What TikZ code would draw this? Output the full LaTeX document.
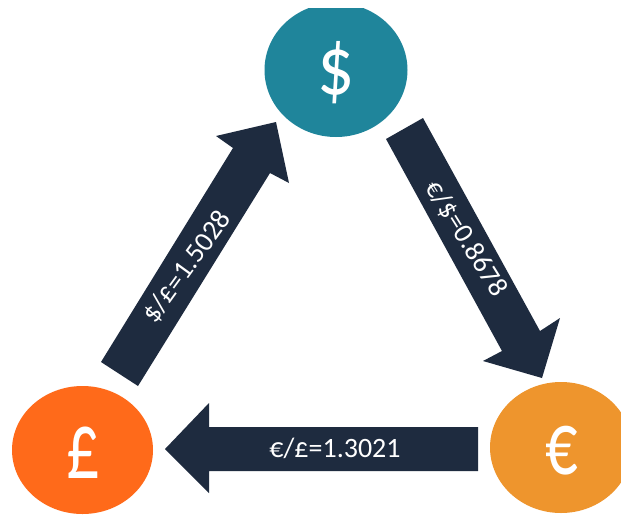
\documentclass[tikz,border=0pt]{standalone}
\usepackage{fontspec}
\setmainfont{Carlito}
\usetikzlibrary{shapes.geometric}
\definecolor{tealc}{HTML}{1F859B}
\definecolor{poundc}{HTML}{FF6A1A}
\definecolor{euroc}{HTML}{EE952D}
\definecolor{navyc}{HTML}{1E2B3F}
\tikzset{
  coin/.style={ellipse,inner sep=0pt},
  glyph/.style={text=white,inner sep=0pt,font=\fontsize{70}{70}\selectfont},
  blockarrow/.style={fill=navyc,draw=none},
  ratelabel/.style={text=white,inner sep=0pt,font=\fontsize{28}{28}\selectfont}
}
\begin{document}
\begin{tikzpicture}[x=1pt,y=-1pt]
\useasboundingbox (0,0) rectangle (621,515);
\fill[white] (0,0) rectangle (621,515);
\begin{scope}
\clip (0,8) rectangle (621,515);
\node[coin,fill=tealc,minimum width=143pt,minimum height=134pt] (usd) at (336,70) {};
\node[coin,fill=poundc,minimum width=141pt,minimum height=128pt] (gbp) at (82.5,450) {};
\node[coin,fill=euroc,minimum width=142pt,minimum height=131pt] (eur) at (561,447.5) {};
\end{scope}
\node[glyph] (usdsym) at (336,73) {\scalebox{1.05}[1.2]{\$}};
\node[glyph] (gbpsym) at (83,453) {\scalebox{0.95}[1.38]{£}};
\node[glyph] (eursym) at (562,451) {\scalebox{0.92}[1.3]{€}};
\fill[blockarrow] (101,362) -- (233,148) -- (216,136) -- (276,122) -- (289,183) -- (270,173) -- (138,386) -- cycle;
\fill[blockarrow] (386,139) -- (423,118) -- (540,331) -- (560,318) -- (542,378) -- (483,361) -- (502,351) -- cycle;
\fill[blockarrow] (478,427) -- (209,427) -- (209,403) -- (165,449) -- (209,493) -- (209,471) -- (478,471) -- cycle;
\node[ratelabel,rotate=54] (gbpusd) at (187,267) {\$/£=1.5028};
\node[ratelabel,rotate=-58] (usdeur) at (466,239) {€/\$=0.8678};
\node[ratelabel] (eurgbp) at (335,448) {€/£=1.3021};
\end{tikzpicture}
\end{document}
